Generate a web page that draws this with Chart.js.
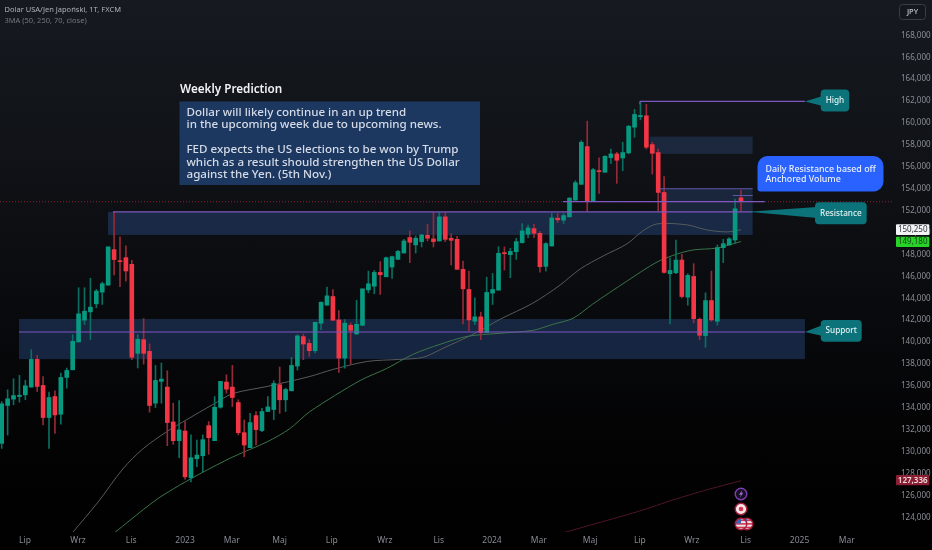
<!DOCTYPE html>
<html><head><meta charset="utf-8">
<script src="https://cdn.jsdelivr.net/npm/chart.js@4/dist/chart.umd.min.js"></script>
<style>
html,body{margin:0;padding:0;width:932px;height:550px;overflow:hidden;background:linear-gradient(180deg,#161a20 0%,#0d0f13 40%,#030304 80%,#000 100%)}
canvas{display:block}
</style></head><body><canvas id="c" width="932" height="550"></canvas>
<script>
const opens=[130.75,134.21,134.79,135.03,135.18,135.89,138.42,136.04,133.11,135.03,133.41,136.77,137.47,140.01,142.0,142.76,143.49,144.56,145.20,148.44,147.40,147.71,147.10,138.97,140.22,139.15,134.42,136.41,135.89,132.71,131.0,131.88,127.61,129.35,129.62,132.37,131.0,134.05,136.35,135.89,134.48,131.73,130.36,133.29,131.92,133.66,133.84,136.10,134.73,135.55,137.81,140.50,139.88,139.21,141.72,143.37,144.16,142.02,138.54,141.53,140.74,141.53,144.77,145.10,146.36,145.96,146.85,147.55,148.13,149.54,148.87,149.17,149.75,149.42,149.23,151.43,149.48,149.38,146.64,144.80,141.90,142.30,140.86,144.47,144.74,148.16,147.98,148.25,149.08,149.84,150.36,149.93,146.91,148.77,151.31,151.13,151.43,152.96,154.40,157.85,152.84,155.65,155.50,156.84,157.18,156.81,157.27,159.62,160.57,160.66,158.03,157.30,153.66,146.24,146.33,147.49,144.10,145.99,142.08,140.59,143.79,141.90,148.62,148.87,149.32,153.17];
const highs=[134.57,135.64,136.65,136.96,136.50,139.31,138.79,136.86,135.43,135.55,137.17,137.63,140.68,144.96,144.96,145.82,144.81,145.48,148.69,151.90,149.60,148.78,147.47,140.68,142.15,139.83,137.87,138.09,137.38,134.42,134.66,132.74,131.52,131.06,131.52,132.74,135.03,136.41,137.02,137.87,134.73,132.89,133.50,133.66,133.96,135.03,136.47,137.72,135.79,138.61,140.68,140.74,140.22,141.81,143.64,145.02,144.80,142.88,142.05,141.75,143.82,144.86,146.48,146.54,147.34,147.76,147.86,148.38,149.38,150.15,149.69,149.84,150.76,151.83,151.83,151.83,149.90,149.66,147.40,146.48,144.04,142.73,145.93,146.27,148.71,148.68,148.56,149.48,150.82,150.67,150.76,150.09,149.08,151.77,151.74,151.74,153.20,154.73,158.40,160.17,155.86,156.81,157.02,157.63,157.33,158.24,159.77,161.24,161.96,161.70,158.24,157.63,155.10,147.70,149.32,148.00,146.24,147.16,142.20,144.50,146.48,148.87,149.38,149.54,153.05,153.88];
const lows=[130.29,131.52,134.27,134.51,134.73,135.89,135.49,132.43,130.29,131.67,132.50,135.79,137.47,140.01,141.60,140.22,143.13,143.43,145.20,146.12,145.05,145.57,138.39,137.63,137.99,133.60,134.02,134.42,130.54,130.66,129.44,127.49,127.24,128.62,128.10,129.75,131.0,133.96,135.34,134.11,131.52,129.53,130.36,130.60,131.82,133.66,132.92,133.50,133.66,135.55,137.44,138.39,138.69,139.0,141.14,143.37,141.99,137.23,137.62,137.99,140.68,141.53,144.50,144.41,144.35,145.96,145.81,147.55,148.13,147.25,148.13,148.68,149.23,148.68,149.23,149.17,147.03,146.64,141.66,141.05,141.60,140.22,140.86,143.43,144.74,146.58,145.87,147.55,149.02,149.54,149.54,146.39,146.48,148.77,150.91,150.82,151.43,152.96,154.40,151.92,152.84,153.57,155.50,156.32,154.49,155.65,157.18,158.70,160.29,157.63,155.34,151.98,146.30,141.66,146.24,144.04,143.37,141.75,140.22,139.52,141.90,141.53,147.25,148.87,148.98,151.92];
const closes=[134.36,134.82,135.12,135.15,136.01,138.42,135.95,133.11,134.94,133.35,136.77,137.41,140.07,142.58,142.82,143.19,144.65,145.33,148.69,147.53,147.34,146.49,138.61,140.26,138.97,134.21,136.50,136.62,132.65,131.0,131.98,127.70,129.44,129.68,131.09,131.27,134.05,136.41,135.70,134.94,131.73,130.60,132.65,132.01,133.66,134.08,136.22,134.73,135.67,137.87,140.56,139.82,139.21,141.81,143.64,144.22,141.99,138.54,141.72,141.07,141.62,144.86,145.32,146.36,146.15,147.70,147.80,148.28,149.23,149.11,149.48,149.78,149.48,149.17,151.43,149.38,149.29,146.64,144.86,142.02,142.30,140.86,144.53,144.80,148.10,148.07,148.28,149.17,150.15,150.42,149.93,146.88,148.99,151.34,151.16,151.55,153.14,154.55,158.24,152.84,155.74,155.56,156.96,157.18,156.60,157.30,159.71,160.78,160.69,157.79,157.24,153.66,146.36,146.54,147.49,144.16,146.09,142.14,140.62,143.79,142.02,148.62,148.98,149.42,152.17,152.81];

const grayIdx=[11.9,16.3,20.5,23.9,27.9,31.3,35.7,39.1,44.9,52.1,56.0,61.8,67.3,71.2,74.6,79.7,84.3,89.8,94.4,97.8,101.7,105.7,108.4,110.8,115.9,119.2,122.6,125];
const grayVal=[122.56,125.40,128.43,130.26,131.82,132.92,134.30,135.30,135.95,136.86,137.50,138.23,138.42,138.60,139.43,140.71,142.09,143.55,145.20,146.67,147.86,148.96,150.15,150.79,150.70,150.24,150.06,150.25];
const greenIdx=[18.8,25.6,29.0,33.5,39.1,44.9,48.7,52.1,60.6,65.1,69.5,74.1,78.7,84.2,89.8,93.2,96.6,99.9,105.7,110.8,114.2,116.9,121.0,125];
const greenVal=[122.47,125.40,126.59,127.97,129.52,130.90,132.09,133.65,136.49,137.59,138.87,139.79,140.52,140.80,141.07,141.62,142.17,143.46,145.56,147.31,148.04,148.41,148.59,149.18];
const redIdx=[95,107.9,113.5,119.2,125];
const redVal=[122.6,124.58,125.59,126.51,127.34];

const priceTicks=[124,126,128,130,132,134,136,138,140,142,144,146,148,150,152,154,156,158,160,162,164,166,168];
const timeLabels=["Lip","Wrz","Lis","2023","Mar","Maj","Lip","Wrz","Lis","2024","Mar","Maj","Lip","Wrz","Lis","2025","Mar"];
const timeIdx=[3.94,12.9,21.9,31,38.9,47,55.8,64.8,73.9,82.9,90.8,99.5,107.9,116.7,125.8,134.9,142.9];

const F='"Noto Sans",sans-serif';
const indices=opens.map((_,i)=>i);
const GREEN='#089981',RED='#f23645';
const up=i=>closes[i]>=opens[i];

function rr(ctx,x,y,w,h,r){ctx.beginPath();ctx.roundRect(x,y,w,h,r);}
function txt(ctx,s,x,y,font,col,al){ctx.font=font;ctx.fillStyle=col;ctx.textAlign=al||'left';ctx.textBaseline='middle';ctx.fillText(s,x,y);}

const overlay={id:'overlay',
 beforeDatasetsDraw(ch){
  const c=ch.ctx,X=v=>ch.scales.x.getPixelForValue(v),Y=v=>ch.scales.y.getPixelForValue(v);
  const band=(a,b,t,u,col)=>{c.fillStyle=col;c.fillRect(X(a),Y(u),X(b)-X(a),Y(t)-Y(u));};
  c.save();
  band(2.92,135.8,138.44,142.11,'rgba(44,78,140,.42)');
  band(17.97,126.97,149.78,151.89,'rgba(44,78,140,.42)');
  band(111.3,126.97,151.89,154.0,'rgba(50,78,130,.36)');
  band(109.6,126.97,157.18,158.76,'rgba(50,78,130,.36)');
  c.restore();
 },
 afterDatasetsDraw(ch){
  const c=ch.ctx,X=v=>ch.scales.x.getPixelForValue(v),Y=v=>ch.scales.y.getPixelForValue(v);
  c.save();
  const PUR='#7e57c2';
  const hl=(a,b,p,col,w)=>{c.strokeStyle=col||PUR;c.lineWidth=w||1.2;c.beginPath();c.moveTo(X(a),Y(p));c.lineTo(X(b),Y(p));c.stroke();};
  c.setLineDash([1,2]);c.strokeStyle='rgba(242,54,69,.55)';c.lineWidth=1;c.beginPath();c.moveTo(0,Y(152.81));c.lineTo(893,Y(152.81));c.stroke();c.setLineDash([]);
  hl(2.92,135.8,140.92);
  hl(18.82,126.97,151.89);
  hl(94.9,129,152.83);
  hl(111.3,126.97,154.0,'#5f58a8',1);
  hl(123.6,126.97,153.38,'#5f58a8',1);
  hl(107.9,135.8,161.97);
  c.strokeStyle=PUR;c.lineWidth=1;c.beginPath();c.moveTo(X(107.9),Y(161.97));c.lineTo(X(107.9),Y(161.7));c.stroke();
  c.fillStyle='#1c3861';c.fillRect(179.5,101.5,300.5,83.5);
  txt(c,'Weekly Prediction',180,90,'600 11.7px '+F,'#f0f2f5');
  const B='500 11.6px '+F,TC='#d5dbe6';
  txt(c,'Dollar will likely continue in an up trend',186.5,112.5,B,TC);
  txt(c,'in the upcoming week due to upcoming news.',186.5,125,B,TC);
  txt(c,'FED expects the US elections to be won by Trump',186.5,150,B,TC);
  txt(c,'which as a result should strengthen the US Dollar',186.5,162.5,B,TC);
  txt(c,'against the Yen. (5th Nov.)',186.5,175,B,TC);
  const TEAL='#0b7379';
  const call=(x,y,w,h,tx,ty,y1,y2,label)=>{c.fillStyle=TEAL;rr(c,x,y,w,h,4);c.fill();c.beginPath();c.moveTo(tx,ty);c.lineTo(x+2,y1);c.lineTo(x+2,y2);c.closePath();c.fill();
    txt(c,label,x+w/2,y+h/2,'500 8.2px '+F,'#e4f2f3','center');};
  call(820.7,89.5,28.5,22,X(135.8),Y(161.97),96,106,'High');
  call(820.7,320,41,21.7,X(135.8),Y(140.92),325,336,'Support');
  call(815,202.3,51.7,22,X(126.2),Y(151.89),207,218,'Resistance');
  c.fillStyle='#2962ff';rr(c,757.5,156,126,35.5,[10,10,10,3]);c.fill();
  txt(c,'Daily Resistance based off',765.5,169,'500 8.9px '+F,'#e8effc');
  txt(c,'Anchored Volume',765.5,179,'500 8.9px '+F,'#e8effc');
  txt(c,'Dolar USA/Jen Japoński, 1T, FXCM',4.5,10,'7.5px '+F,'#aeb1b8');
  txt(c,'3MA (50, 250, 70, close)',4.5,21,'7.5px '+F,'#74777f');
  c.strokeStyle='#3a3d45';c.lineWidth=1;c.fillStyle='#14171d';rr(c,899.5,4.5,26,15,3);c.fill();c.stroke();
  txt(c,'JPY',912.5,12,'500 7.5px '+F,'#c8cad0','center');
  const tag=(y,h,bg,col,s,w)=>{c.fillStyle=bg;rr(c,896,y,33.3,h,1);c.fill();txt(c,s,912.7,y+h/2+.3,(w||'400')+' 8px '+F,col,'center');};
  tag(224.3,10.8,'#f2f3f5','#30333a','150,250');
  tag(236.7,10.2,'#27d327','#14431a','149,180');
  tag(475,10.3,'#8a1f33','#f0dde0','127,336','600');
  const ex=X(125);
  const ring=(y,col,fill)=>{c.beginPath();c.arc(ex,y,5.8,0,7);c.fillStyle=fill;c.fill();c.lineWidth=1.4;c.strokeStyle=col;c.stroke();};
  ring(494,'#7b3fb5','#17101f');
  c.fillStyle='#a56be0';c.beginPath();c.moveTo(ex+1.5,489.8);c.lineTo(ex-2,494.8);c.lineTo(ex,494.8);c.lineTo(ex-1.3,498);c.lineTo(ex+2.2,492.8);c.lineTo(ex+.3,492.8);c.closePath();c.fill();
  ring(509,'#a51f3c','#f4e6e8');
  c.fillStyle='#d9364e';c.beginPath();c.arc(ex,509,2.3,0,7);c.fill();
  const flag=(x)=>{c.save();c.beginPath();c.arc(x,524,5.5,0,7);c.fillStyle='#e9e4ea';c.fill();c.clip();
    for(let k=0;k<3;k++){c.fillStyle='#d3344b';c.fillRect(x-6,519.5+k*3.6,12,1.6);}
    c.fillStyle='#3b63b5';c.fillRect(x-6,518,6,5.5);c.restore();
    c.beginPath();c.arc(x,524,5.8,0,7);c.lineWidth=1.4;c.strokeStyle='#a51f3c';c.stroke();};
  flag(ex+6);flag(ex);
  c.restore();
 }};

new Chart(document.getElementById('c'),{
 data:{datasets:[
  {type:'line',data:grayIdx.map((x,i)=>({x,y:grayVal[i]})),borderColor:'#565b5c',borderWidth:1,pointRadius:0,tension:.3,order:3},
  {type:'line',data:greenIdx.map((x,i)=>({x,y:greenVal[i]})),borderColor:'#3a7548',borderWidth:1,pointRadius:0,tension:.3,order:3},
  {type:'line',data:redIdx.map((x,i)=>({x,y:redVal[i]})),borderColor:'#4f1626',borderWidth:1,pointRadius:0,tension:.2,order:3},
  {type:'bar',data:indices.map(i=>({x:i,y:[lows[i],highs[i]]})),backgroundColor:indices.map(i=>up(i)?'#0a6f60':'#962a38'),barThickness:1,grouped:false,order:2},
  {type:'bar',data:indices.map(i=>({x:i,y:[opens[i],closes[i]]})),backgroundColor:indices.map(i=>up(i)?GREEN:RED),barThickness:4,minBarLength:1,grouped:false,order:1}
 ]},
 options:{responsive:false,animation:false,devicePixelRatio:1,
  layout:{padding:0},
  plugins:{legend:{display:false},tooltip:{enabled:false}},
  scales:{
   x:{type:'linear',min:-0.287,max:150.7,offset:false,grid:{display:false,drawTicks:false},border:{display:false},
    afterBuildTicks(s){s.ticks=timeIdx.map(value=>({value}));},
    afterFit(s){s.height=18;s.paddingLeft=0;s.paddingRight=0;s.paddingTop=0;s.paddingBottom=0;},
    ticks:{autoSkip:false,maxRotation:0,padding:3,color:'#878a92',font:{family:F,size:8.5},
     callback(v){return timeLabels[timeIdx.indexOf(v)];}}},
   y:{type:'linear',position:'right',min:122.66,max:171.23,grid:{display:false,drawTicks:false},border:{display:false},
    afterBuildTicks(s){s.ticks=priceTicks.map(value=>({value}));},
    afterFit(s){s.width=39;s.paddingLeft=0;s.paddingRight=0;s.paddingTop=0;s.paddingBottom=0;},
    ticks:{autoSkip:false,padding:8,color:'#8b8e96',font:{family:F,size:8},
     callback(v){return v.toFixed(3).replace('.',',');}}}
  }},
 plugins:[overlay]
});
</script></body></html>
